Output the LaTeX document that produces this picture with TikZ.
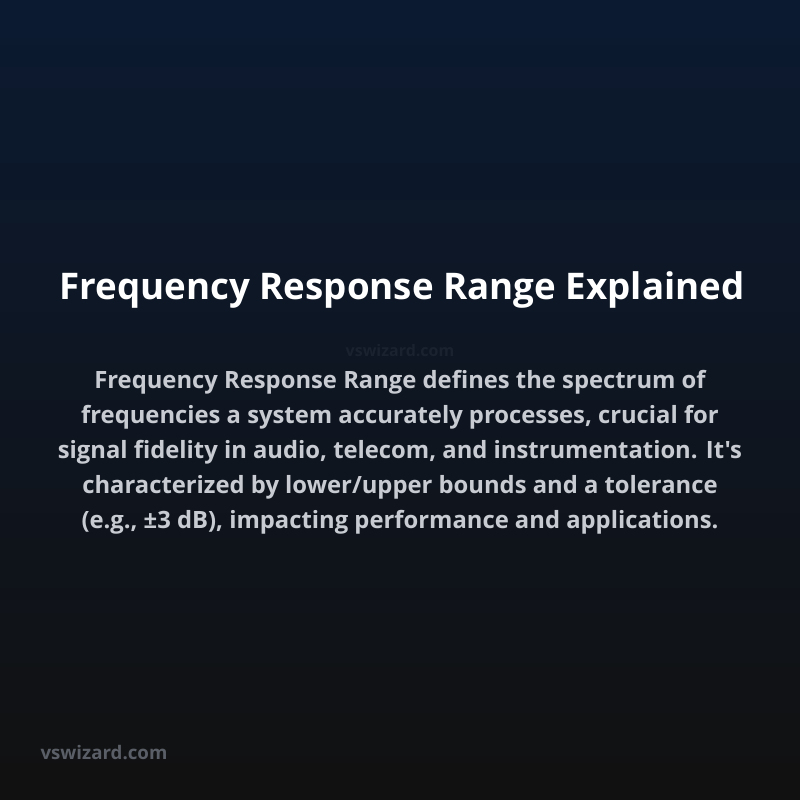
\documentclass[tikz,border=0pt]{standalone}
\usepackage{fontspec}
\setmainfont{Open Sans}[Ligatures=TeXOff]
\definecolor{topc}{HTML}{0B1A31}
\definecolor{botc}{HTML}{111111}
\definecolor{bodyc}{HTML}{C8CCD2}
\definecolor{wmc}{HTML}{1A2230}
\definecolor{footc}{HTML}{5A5E66}
\begin{document}
\begin{tikzpicture}[x=1pt,y=1pt]
\shade[top color=topc,bottom color=botc] (0,0) rectangle (800,800);
\useasboundingbox (0,0) rectangle (800,800);
\node[text=white,font=\bfseries\fontsize{36.7}{42}\selectfont] (title) at (402,510) {Frequency Response Range Explained};
\node[text=wmc,font=\bfseries\fontsize{16}{20}\selectfont] (wm) at (400,449) {vswizard.com};
\node[text=bodyc,font=\bfseries\fontsize{23.8}{35}\selectfont,align=center] (body) at (400,348) {Frequency Response Range defines the spectrum of\\frequencies a system accurately processes, crucial for\\signal fidelity in audio, telecom, and instrumentation. It's\\characterized by lower/upper bounds and a tolerance\\(e.g., ±3 dB), impacting performance and applications.};
\node[text=footc,font=\bfseries\fontsize{18.7}{22}\selectfont,anchor=west] (foot) at (37,47) {vswizard.com};
\end{tikzpicture}
\end{document}
